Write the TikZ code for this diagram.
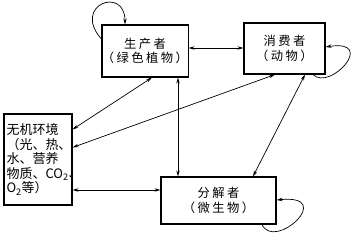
\documentclass[tikz,border=0pt]{standalone}
\usepackage{fontspec}
\newfontfamily\cjk{Noto Sans CJK SC}
\newfontfamily\cjkwide[LetterSpace=20]{Noto Sans CJK SC}
\usetikzlibrary{positioning,arrows.meta}

\begin{document}
\begin{tikzpicture}[
    x=1pt, y=1pt,
    box/.style={draw, line width=1.1pt, inner sep=0pt, align=center, font=\cjkwide\fontsize{12.3}{14.5}\selectfont},
    envbox/.style={draw, line width=1.1pt, inner sep=2.5pt, text width=63pt, align=left, font=\cjk\fontsize{13}{14.5}\selectfont},
    arrow/.style={-{Stealth[length=6pt,width=3.4pt]}, line width=0.7pt},
    dblarrow/.style={{Stealth[length=6pt,width=3.4pt]}-{Stealth[length=6pt,width=3.4pt]}, line width=0.7pt}
  ]
  \useasboundingbox (0,0) rectangle (351,234);

  \node[box, minimum width=86pt, minimum height=52pt] (producer) at (145,183) {生产者\\（绿色植物）};
  \node[box, minimum width=81pt, minimum height=51pt] (consumer) at (284.5,185.5) {消费者\\（动物）};
  \node[box, minimum width=115pt, minimum height=47pt] (decomposer) at (218.5,33.5) {分解者\\（微生物）};
  \node[envbox, minimum width=68pt, minimum height=91pt] (environment) at (38,74.5) {无机环境\\（光、热、\\水、营养\\物质、CO\textsubscript{2}、\\O\textsubscript{2}等）};

  \draw[dblarrow] ([yshift=3pt]producer.east) -- ([yshift=3pt]producer.east -| consumer.west);
  \draw[dblarrow] ([yshift=-16pt]environment.north east) -- ([xshift=7pt]producer.south);
  \draw[dblarrow] ([yshift=-34pt]environment.north east) -- ([xshift=-9.5pt]consumer.south);
  \draw[dblarrow] ([xshift=33pt]producer.south) -- ([xshift=33pt]producer.south |- decomposer.north);
  \draw[dblarrow] ([xshift=20.5pt]consumer.south) -- ([xshift=34.5pt]decomposer.north);
  \draw[dblarrow] ([yshift=-30.5pt]environment.east) -- ([yshift=-30.5pt]environment.east -| decomposer.west);

  % self loops
  \draw[arrow] ([yshift=12pt]producer.west) .. controls +(-30,34) and +(0,39) .. ([xshift=-20pt]producer.north);
  \draw[arrow] ([xshift=28.5pt]consumer.south) .. controls +(17,-17) and +(52,8) .. ([yshift=1.5pt]consumer.east);
  \draw[arrow] ([xshift=43.5pt]decomposer.south) .. controls +(13,-27) and +(60,6) .. ([yshift=0.5pt]decomposer.east);
\end{tikzpicture}
\end{document}
